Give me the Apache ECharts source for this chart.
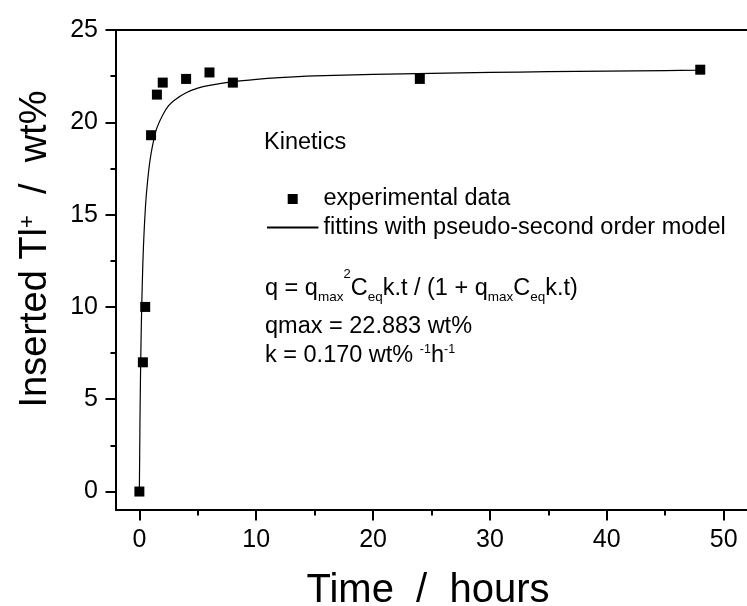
<!DOCTYPE html>
<html><head><meta charset="utf-8">
<script src="https://cdn.jsdelivr.net/npm/echarts@6/dist/echarts.min.js"></script>
<style>html,body{margin:0;padding:0;background:#fff}#c{width:747px;height:606px}</style>
</head><body><div id="c"></div>
<script>
// ---- data ----
const timeHours = [0, 0.3, 0.5, 1, 1.5, 2, 4, 6, 8, 24, 48];
const insertedTl = [0, 7.0, 10.0, 19.3, 21.5, 22.15, 22.35, 22.7, 22.15, 22.35, 22.85];
const fitTime = [0, 0.05, 0.1, 0.15, 0.2, 0.3, 0.4, 0.5, 0.6, 0.8, 1, 1.25, 1.5, 2, 2.5, 3, 4, 5, 6, 8, 10, 12, 15, 20, 25, 30, 35, 40, 45, 48];
const fitValue = [0, 3.7, 6.4, 8.4, 10.0, 12.4, 14.0, 15.2, 16.1, 17.4, 18.3, 19.1, 19.7, 20.4, 20.9, 21.2, 21.6, 21.85, 22.0, 22.2, 22.33, 22.42, 22.51, 22.6, 22.65, 22.7, 22.74, 22.77, 22.8, 22.82];
const xMajorTicks = [0, 10, 20, 30, 40, 50];
const xMinorTicks = [5, 15, 25, 35, 45];
const yMajorTicks = [0, 5, 10, 15, 20, 25];
const yMinorTicks = [2.5, 7.5, 12.5, 17.5, 22.5];
const seriesNames = ['experimental data', 'fittins with pseudo-second order model'];
const xTitle = 'Time  /  hours';
const annotTitle = 'Kinetics';

// ---- chart ----
const FF = '"Liberation Sans", Arial, sans-serif';
const K = '#000';
const chart = echarts.init(document.getElementById('c'), null, {renderer: 'canvas'});

const scatterData = timeHours.map((t, i) => [t, insertedTl[i]]);
const fitData = fitTime.map((t, i) => [t, fitValue[i]]);

const baseAxis = {type: 'value', splitLine: {show: false}};
const n = () => ({fontSize: 23.5, fontFamily: FF, color: K, lineHeight: 24});
const sub = (p, fs) => ({fontSize: fs, fontFamily: FF, color: K, lineHeight: fs, padding: [p, 0, 0, 0]});
const sup = (q, fs) => ({fontSize: fs, fontFamily: FF, color: K, lineHeight: fs, padding: [0, 0, q, 0]});

const option = {
  animation: false,
  backgroundColor: '#fff',
  grid: {left: 116, top: 30, width: 637, height: 480, containLabel: false},
  xAxis: [
    Object.assign({}, baseAxis, {
      min: -2, max: 52, position: 'bottom',
      axisLine: {show: true, onZero: false, lineStyle: {color: K, width: 2}},
      axisTick: {show: true, inside: false, length: 10.5, customValues: xMajorTicks, lineStyle: {color: K, width: 2}},
      axisLabel: {show: true, margin: 18, customValues: xMajorTicks, fontSize: 25, fontFamily: FF, color: K}
    }),
    Object.assign({}, baseAxis, {
      min: -2, max: 52, position: 'bottom',
      axisLine: {show: false, onZero: false},
      axisTick: {show: true, inside: false, length: 5.5, customValues: xMinorTicks, lineStyle: {color: K, width: 2}},
      axisLabel: {show: false}
    }),
    Object.assign({}, baseAxis, {
      min: -2, max: 52, position: 'top',
      axisLine: {show: true, onZero: false, lineStyle: {color: K, width: 2}},
      axisTick: {show: false}, axisLabel: {show: false}
    })
  ],
  yAxis: [
    Object.assign({}, baseAxis, {
      min: -1, max: 25, position: 'left',
      axisLine: {show: true, onZero: false, lineStyle: {color: K, width: 2}},
      axisTick: {show: true, inside: false, length: 10.5, customValues: yMajorTicks, lineStyle: {color: K, width: 2}},
      axisLabel: {show: true, margin: 18, customValues: yMajorTicks, fontSize: 25, fontFamily: FF, color: K}
    }),
    Object.assign({}, baseAxis, {
      min: -1, max: 25, position: 'left',
      axisLine: {show: false, onZero: false},
      axisTick: {show: true, inside: false, length: 5.5, customValues: yMinorTicks, lineStyle: {color: K, width: 2}},
      axisLabel: {show: false}
    })
  ],
  legend: {
    orient: 'vertical', left: 266, top: 187, padding: 0,
    itemWidth: 51.4, itemHeight: 10, itemGap: 4.6, selectedMode: false,
    textStyle: {fontSize: 23.5, fontFamily: FF, color: K, lineHeight: 24},
    data: [
      {name: seriesNames[0], icon: 'path://M0,0L10,0L10,10L0,10Z'},
      {name: seriesNames[1], itemStyle: {opacity: 0}}
    ]
  },
  series: [
    {
      name: seriesNames[1], type: 'line', data: fitData, xAxisIndex: 0, yAxisIndex: 0,
      showSymbol: false, symbol: 'none', smooth: 0.3, z: 2,
      lineStyle: {color: K, width: 1.2}, itemStyle: {color: K}
    },
    {
      name: seriesNames[0], type: 'scatter', data: scatterData, xAxisIndex: 0, yAxisIndex: 0,
      symbol: 'rect', symbolSize: 10, z: 3,
      itemStyle: {color: K, opacity: 1}
    }
  ],
  graphic: [
    {type: 'text', x: 264, y: 143, style: {text: annotTitle, fontSize: 23.5, fontFamily: FF, fill: K, verticalAlign: 'middle'}},
    {type: 'text', x: 265, y: 289, style: {
      text: '{n|q = q}{sb|max}{sp|2}{n|C}{sb|eq}{n|k.t / (1 + q}{sb|max}{n|C}{sb|eq}{n|k.t)}',
      fontSize: 23.5, fontFamily: FF, fill: K, verticalAlign: 'middle',
      rich: {n: n(), sb: sub(15.8, 13.5), sp: sup(30, 13)}
    }},
    {type: 'text', x: 265, y: 327, style: {text: 'qmax = 22.883 wt%', fontSize: 23.5, fontFamily: FF, fill: K, verticalAlign: 'middle'}},
    {type: 'text', x: 265, y: 356, style: {
      text: '{n|k = 0.170 wt% }{sp|-1}{n|h}{sp|-1}',
      fontSize: 23.5, fontFamily: FF, fill: K, verticalAlign: 'middle',
      rich: {n: n(), sp: sup(12, 12.5)}
    }},
    {type: 'text', x: 428, y: 591, style: {text: xTitle, fontSize: 40, fontFamily: FF, fill: K, align: 'center', verticalAlign: 'middle'}},
    {type: 'text', x: 36, y: 249, rotation: Math.PI / 2, style: {
      text: '{n|Inserted Tl}{sp|+}{n|  /  wt%}',
      fontSize: 38, fontFamily: FF, fill: K, align: 'center', verticalAlign: 'middle',
      rich: {n: {fontSize: 38, fontFamily: FF, color: K, lineHeight: 38}, sp: {fontSize: 22, fontFamily: FF, color: K, lineHeight: 22, padding: [0, 0, 16, 0]}}
    }}
  ]
};
chart.setOption(option);
</script>
</body></html>
